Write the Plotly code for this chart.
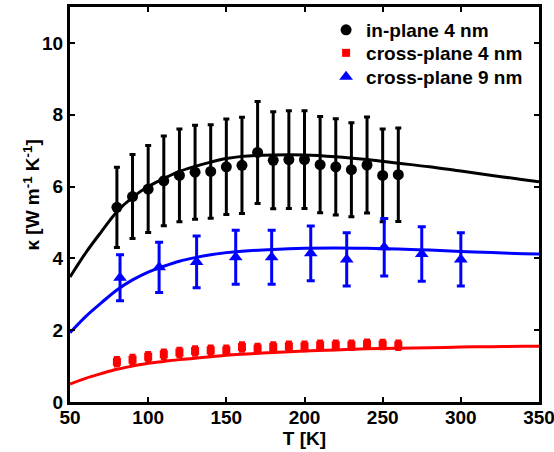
import plotly.graph_objects as go

# ---- data ----
T_in = [80, 90, 100, 110, 120, 130, 140, 150, 160, 170, 180, 190, 200, 210, 220, 230, 240, 250, 260]
k_in = [5.42, 5.72, 5.93, 6.16, 6.31, 6.40, 6.42, 6.55, 6.59, 6.95, 6.73, 6.75, 6.75, 6.61, 6.55, 6.47, 6.60, 6.31, 6.33]
e_in = [1.12, 1.17, 1.21, 1.25, 1.29, 1.31, 1.30, 1.33, 1.34, 1.42, 1.35, 1.36, 1.36, 1.34, 1.34, 1.31, 1.34, 1.29, 1.30]

T_c4 = [80, 90, 100, 110, 120, 130, 140, 150, 160, 170, 180, 190, 200, 210, 220, 230, 240, 250, 260]
k_c4 = [1.12, 1.18, 1.26, 1.33, 1.38, 1.42, 1.44, 1.44, 1.53, 1.49, 1.53, 1.55, 1.55, 1.58, 1.58, 1.58, 1.61, 1.60, 1.58]
e_c4 = [0.12] * 19

T_c9 = [82, 107, 131, 156, 179, 204, 227, 251, 275, 300]
k_c9 = [3.46, 3.75, 3.90, 4.03, 4.03, 4.14, 3.97, 4.31, 4.12, 3.97]
e_c9 = [0.64, 0.70, 0.72, 0.75, 0.75, 0.76, 0.74, 0.80, 0.76, 0.74]

T_fit = [50, 60, 70, 80, 90, 100, 110, 120, 130, 140, 150, 160, 180, 200, 220, 240, 260, 280, 300, 320, 340, 350]
fit_in = [3.48, 4.15, 4.74, 5.30, 5.70, 6.00, 6.22, 6.42, 6.56, 6.68, 6.78, 6.84, 6.88, 6.88, 6.83, 6.75, 6.65, 6.55, 6.43, 6.31, 6.19, 6.13]
fit_c9 = [1.93, 2.38, 2.76, 3.12, 3.40, 3.62, 3.78, 3.92, 4.02, 4.10, 4.16, 4.20, 4.25, 4.28, 4.29, 4.28, 4.26, 4.23, 4.19, 4.16, 4.13, 4.12]
fit_c4 = [0.50, 0.66, 0.79, 0.91, 1.00, 1.08, 1.13, 1.18, 1.22, 1.26, 1.30, 1.33, 1.38, 1.42, 1.45, 1.48, 1.50, 1.51, 1.53, 1.54, 1.55, 1.55]

x_ticks = [50, 100, 150, 200, 250, 300, 350]
y_ticks = [0, 2, 4, 6, 8, 10]

FONT = "Liberation Sans, Arial, sans-serif"

fig = go.Figure()

# fit curves
fig.add_trace(go.Scatter(x=T_fit, y=fit_in, mode="lines", line=dict(color="black", width=3, shape="spline"), showlegend=False, hoverinfo="skip"))
fig.add_trace(go.Scatter(x=T_fit, y=fit_c9, mode="lines", line=dict(color="blue", width=3, shape="spline"), showlegend=False, hoverinfo="skip"))
fig.add_trace(go.Scatter(x=T_fit, y=fit_c4, mode="lines", line=dict(color="red", width=3, shape="spline"), showlegend=False, hoverinfo="skip"))

# data
fig.add_trace(go.Scatter(
    x=T_in, y=k_in, mode="markers", name="in-plane 4 nm", legend="legend",
    marker=dict(symbol="circle", size=11, color="black"),
    error_y=dict(type="data", array=e_in, visible=True, color="black", thickness=3, width=3)))
fig.add_trace(go.Scatter(
    x=T_c4, y=k_c4, mode="markers", name="cross-plane 4 nm", legend="legend2",
    marker=dict(symbol="square", size=8, color="red"),
    error_y=dict(type="data", array=e_c4, visible=True, color="red", thickness=3, width=3)))
fig.add_trace(go.Scatter(
    x=T_c9, y=k_c9, mode="markers", name="cross-plane 9 nm", legend="legend3",
    marker=dict(symbol="triangle-up", size=12, color="blue"),
    error_y=dict(type="data", array=e_c9, visible=True, color="blue", thickness=3, width=4)))

axis_common = dict(
    showline=True, linecolor="black", linewidth=3, mirror="ticks",
    ticks="inside", ticklen=5, tickwidth=2, tickcolor="black",
    showgrid=False, zeroline=False, automargin=False, ticklabeloverflow="allow",
    tickfont=dict(family=FONT, size=19, color="black", weight="bold"),
)

fig.update_xaxes(range=[50, 350], tickvals=x_ticks, ticktext=[str(v) for v in x_ticks],
                 ticklabelstandoff=-4,
                 title=dict(text="T [K]", font=dict(family=FONT, size=19, color="black", weight="bold"), standoff=4),
                 **axis_common)
fig.update_yaxes(range=[0, 11], tickvals=y_ticks, ticktext=[str(v) for v in y_ticks],
                 **axis_common)

fig.add_annotation(
    text="κ [W m<sup>-1</sup> K<sup>-1</sup>]", textangle=-90,
    xref="paper", yref="paper", x=-0.082, y=0.524, xanchor="center", yanchor="middle",
    showarrow=False, font=dict(family=FONT, size=19, color="black", weight="bold"))

leg_common = dict(x=0.546, xanchor="left", yanchor="middle",
                  bgcolor="rgba(0,0,0,0)", borderwidth=0,
                  font=dict(family=FONT, size=19, color="black", weight="bold"),
                  itemwidth=30)

fig.update_layout(
    width=554, height=452,
    margin=dict(l=70, r=15, t=7, b=50),
    paper_bgcolor="white", plot_bgcolor="white",
    font=dict(family=FONT, color="black"),
    legend=dict(y=(402 - 30) / 395, **leg_common),
    legend2=dict(y=(402 - 53) / 395, **leg_common),
    legend3=dict(y=(402 - 77) / 395, **leg_common),
    showlegend=True,
)

fig.write_html("out.html", config={"displayModeBar": False},
               post_script="document.body.style.margin='0';document.body.style.padding='0';")
